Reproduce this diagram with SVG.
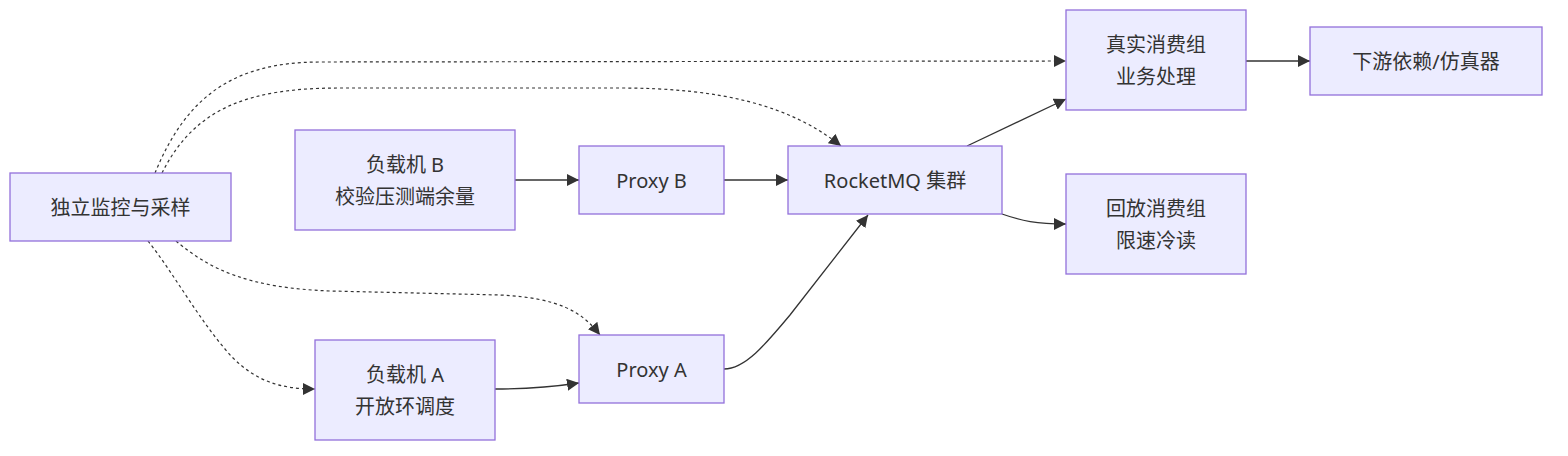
<svg xmlns="http://www.w3.org/2000/svg" width="1568" height="456" viewBox="0 0 1568 456">
<style>
.node rect{fill:#ECECFF;stroke:#9370DB;stroke-width:1.3}
.node text{font-family:"Noto Sans","Noto Sans CJK SC",sans-serif;font-size:20px;fill:#333;text-anchor:middle;dominant-baseline:central}
.edge{fill:none;stroke:#333;stroke-width:1.3}
.dot{stroke-dasharray:3 3;stroke-width:1.2}
</style>
<defs>
<marker id="arr" viewBox="0 0 10 10" refX="10" refY="5" markerWidth="12" markerHeight="12" markerUnits="userSpaceOnUse" orient="auto">
<path d="M0,0 L10,5 L0,10 z" fill="#333"/>
</marker>
</defs>
<rect width="1568" height="456" fill="#fff"/>
<g id="connectors">
<path class="edge dot" marker-end="url(#arr)" d="M155,173 C185,100 230,62 320,62 L1066,61"/>
<path class="edge dot" marker-end="url(#arr)" d="M162,173 C195,107 250,88 340,88 L620,88 C720,88 790,105 841,146"/>
<path class="edge dot" marker-end="url(#arr)" d="M176,241 C210,270 250,288 330,291 L500,295 C560,298 582,312 600,335"/>
<path class="edge dot" marker-end="url(#arr)" d="M148,241 C175,275 200,322 232,357 C256,381 280,389 315,389"/>
<path class="edge" marker-end="url(#arr)" d="M515,180 L579,180"/>
<path class="edge" marker-end="url(#arr)" d="M724,180 L788,180"/>
<path class="edge" marker-end="url(#arr)" d="M495,389 C530,389 552,387 579,383"/>
<path class="edge" marker-end="url(#arr)" d="M724,369 C745,369 765,345 790,315 L868,215"/>
<path class="edge" marker-end="url(#arr)" d="M967,146 L1066,99"/>
<path class="edge" marker-end="url(#arr)" d="M1002,214 C1022,221 1036,224 1066,224"/>
<path class="edge" marker-end="url(#arr)" d="M1246,61 L1310,61"/>
</g>
<g id="monitor" class="node"><rect x="10" y="173" width="221" height="68"/><text x="120.5" y="207">独立监控与采样</text></g>
<g id="loadB" class="node"><rect x="295" y="130" width="220" height="100"/><text x="405" y="164">负载机 B</text><text x="405" y="196">校验压测端余量</text></g>
<g id="proxyB" class="node"><rect x="579" y="146" width="145" height="68"/><text x="651.5" y="180">Proxy B</text></g>
<g id="rocketmq" class="node"><rect x="788" y="146" width="214" height="68"/><text x="895" y="180">RocketMQ 集群</text></g>
<g id="realConsumer" class="node"><rect x="1066" y="10" width="180" height="100"/><text x="1156" y="44">真实消费组</text><text x="1156" y="76">业务处理</text></g>
<g id="replayConsumer" class="node"><rect x="1066" y="174" width="180" height="100"/><text x="1156" y="208">回放消费组</text><text x="1156" y="240">限速冷读</text></g>
<g id="downstream" class="node"><rect x="1310" y="27" width="232" height="68"/><text x="1426" y="61">下游依赖/仿真器</text></g>
<g id="loadA" class="node"><rect x="315" y="340" width="180" height="100"/><text x="405" y="374">负载机 A</text><text x="405" y="406">开放环调度</text></g>
<g id="proxyA" class="node"><rect x="579" y="335" width="145" height="68"/><text x="651.5" y="369">Proxy A</text></g>
</svg>
